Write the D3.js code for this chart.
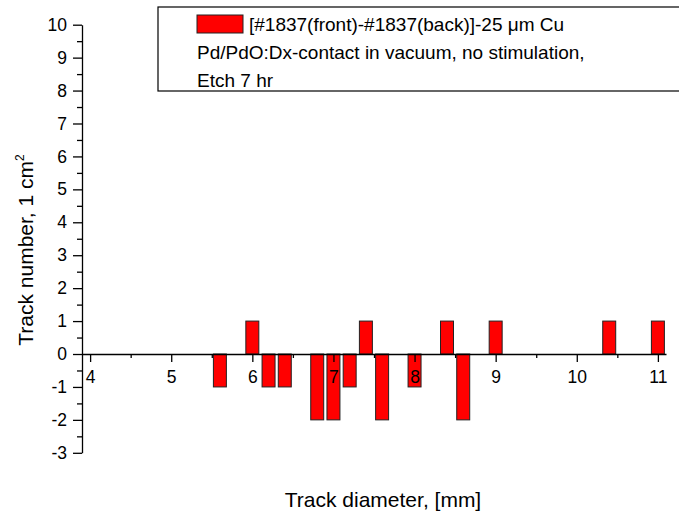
<!DOCTYPE html>
<meta charset="utf-8">
<style>
body { margin: 0; background: #fff; }
text { font-family: "Liberation Sans", Arial, sans-serif; fill: #000; }
.axis path, .axis line { stroke: #000; stroke-width: 1.3px; }
.axis text { font-size: 17.5px; }
.bar { fill: #ff0000; stroke: #222; stroke-width: 1px; }
</style>
<body>
<script src="https://d3js.org/d3.v7.min.js"></script>
<script>

// track diameters (bin centres, mm) and count difference front-back
var diameters = [5.6, 6.0, 6.2, 6.4, 6.8, 7.0, 7.2, 7.4, 7.6, 8.0, 8.4, 8.6, 9.0, 10.4, 11.0];
var counts    = [-1, 1, -1, -1, -2, -2, -1, 1, -2, -1, 1, -2, 1, 1, 1];

var xTicks = [4, 5, 6, 7, 8, 9, 10, 11];
var xMinor = [4.5, 5.5, 6.5, 7.5, 8.5, 9.5, 10.5];
var yTicks = [-3, -2, -1, 0, 1, 2, 3, 4, 5, 6, 7, 8, 9, 10];
var yMinor = [-2.5, -1.5, -0.5, 0.5, 1.5, 2.5, 3.5, 4.5, 5.5, 6.5, 7.5, 8.5, 9.5];

var legendLines = ["[#1837(front)-#1837(back)]-25 \u03bcm Cu",
                   "Pd/PdO:Dx-contact in vacuum, no stimulation,",
                   "Etch 7 hr"];

var width = 679, height = 511;
var barWidth = 0.16;

var svg = d3.select("body").append("svg")
    .attr("width", width)
    .attr("height", height);

// scales
var x = d3.scaleLinear().domain([3.9, 11.1]).range([82, 666]);
var y = d3.scaleLinear().domain([-3, 10]).range([452.8, 24.7]);

// bars
svg.selectAll(".bar")
    .data(diameters)
  .enter().append("rect")
    .attr("class", "bar")
    .attr("x", d => x(d - barWidth / 2))
    .attr("width", d => x(d + barWidth / 2) - x(d - barWidth / 2))
    .attr("y", (d, i) => y(Math.max(0, counts[i])))
    .attr("height", (d, i) => Math.abs(y(counts[i]) - y(0)));

// y axis, minor ticks first
svg.append("g")
    .attr("class", "axis")
    .attr("transform", "translate(" + x.range()[0] + ",0)")
    .call(d3.axisLeft(y).tickValues(yMinor).tickSize(5).tickFormat(""))
    .select(".domain").remove();

svg.append("g")
    .attr("class", "axis")
    .attr("transform", "translate(" + x.range()[0] + ",0)")
    .call(d3.axisLeft(y).tickValues(yTicks).tickSize(9).tickSizeOuter(0)
        .tickPadding(6).tickFormat(d => String(d)));

// x axis sits at y = 0
svg.append("g")
    .attr("class", "axis")
    .attr("transform", "translate(0," + y(0) + ")")
    .call(d3.axisBottom(x).tickValues(xMinor).tickSize(4).tickFormat(""))
    .select(".domain").remove();

svg.append("g")
    .attr("class", "axis")
    .attr("transform", "translate(0," + y(0) + ")")
    .call(d3.axisBottom(x).tickValues(xTicks).tickSize(8).tickSizeOuter(0)
        .tickPadding(9).tickFormat(d => String(d)));

// axis titles
svg.append("text")
    .attr("x", (x.range()[0] + x.range()[1]) / 2 + 9)
    .attr("y", 507)
    .attr("text-anchor", "middle")
    .style("font-size", "21px")
    .text("Track diameter, [mm]");

var yt = svg.append("text")
    .attr("transform", "translate(33,250) rotate(-90)")
    .attr("text-anchor", "middle")
    .style("font-size", "21px");
yt.append("tspan").text("Track number, 1 cm");
yt.append("tspan").attr("dy", -9).style("font-size", "12px").text("2");

// legend
var lg = svg.append("g");
lg.append("rect")
    .attr("x", 158).attr("y", 7)
    .attr("width", 540).attr("height", 84)
    .attr("fill", "#fff").attr("stroke", "#000").attr("stroke-width", 1.2);
lg.append("rect")
    .attr("class", "bar")
    .attr("x", 197).attr("y", 15)
    .attr("width", 46).attr("height", 18);
lg.selectAll(".lgtext")
    .data(legendLines)
  .enter().append("text")
    .attr("class", "lgtext")
    .attr("x", (d, i) => i == 0 ? 249 : 197)
    .attr("y", (d, i) => 31 + i * 28)
    .style("font-size", "19px")
    .text(d => d);

</script>
</body>
